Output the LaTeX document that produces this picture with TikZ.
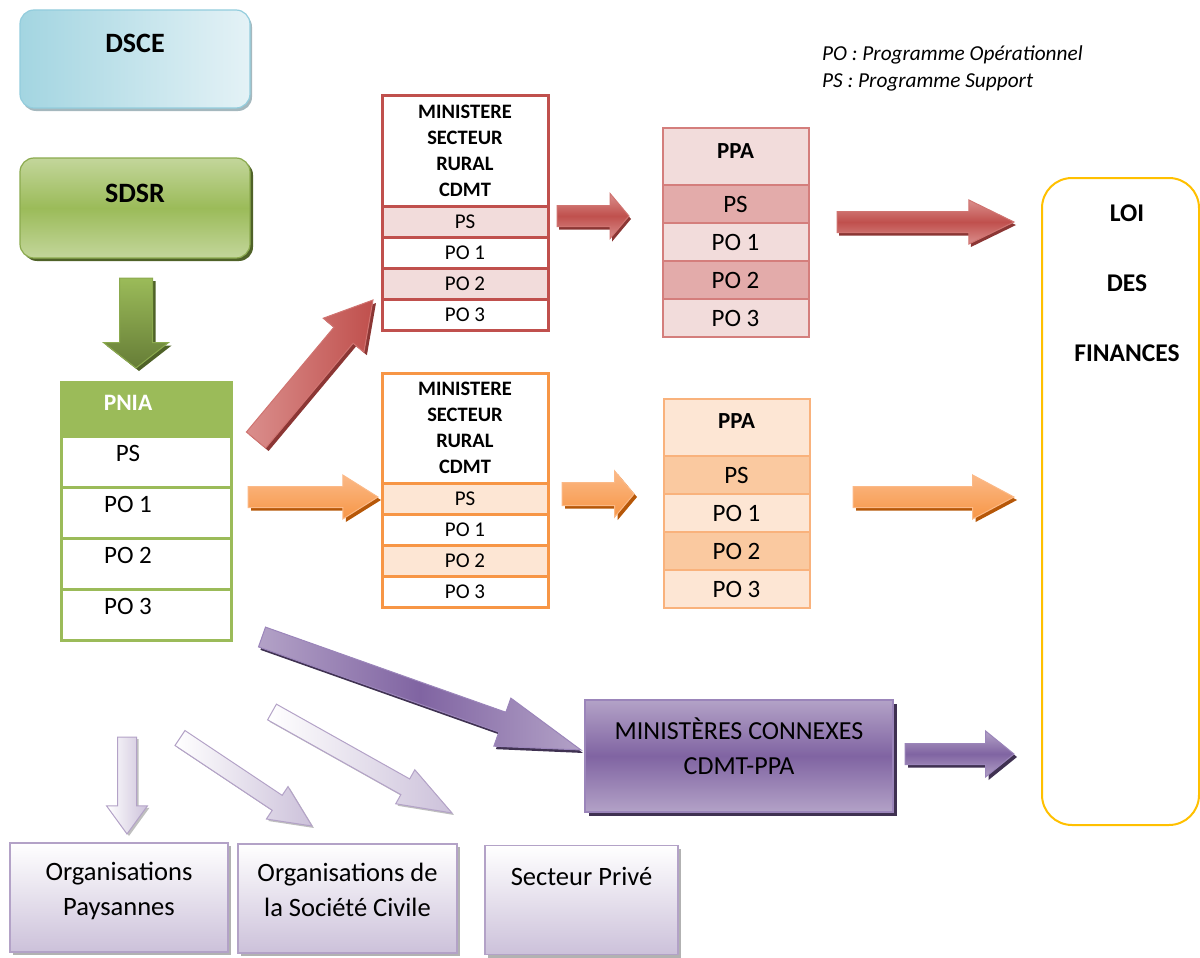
\documentclass[tikz,border=0pt]{standalone}
\usepackage{fontspec}
\setmainfont{Carlito}
\usetikzlibrary{positioning,calc,shapes.arrows,shadows}

\definecolor{dscebleu}{HTML}{A3D5E1}
\definecolor{dscepale}{HTML}{E4F2F6}
\definecolor{dscebord}{HTML}{93CDDD}
\definecolor{dsceombre}{HTML}{A5B8BE}
\definecolor{sdsrvert}{HTML}{9BBB59}
\definecolor{sdsrclair}{HTML}{C3D69B}
\definecolor{sdsrbord}{HTML}{8BAA4E}
\definecolor{sdsrombre}{HTML}{4F6228}
\definecolor{rouge}{HTML}{C0504D}
\definecolor{rougepale}{HTML}{DA8E8C}
\definecolor{rougebord}{HTML}{D07471}
\definecolor{rougefonce}{HTML}{8B3634}
\definecolor{rougeclair}{HTML}{F2DCDB}
\definecolor{rougemoyen}{HTML}{E3ABAA}
\definecolor{rougeppa}{HTML}{D47E7C}
\definecolor{orangevif}{HTML}{F79646}
\definecolor{orangepale}{HTML}{FBB987}
\definecolor{orangefonce}{HTML}{B65708}
\definecolor{orangeclair}{HTML}{FDE6D4}
\definecolor{orangemoyen}{HTML}{FAC9A0}
\definecolor{orangeppa}{HTML}{F9B27C}
\definecolor{violet}{HTML}{8064A2}
\definecolor{violetclair}{HTML}{B3A2C7}
\definecolor{violetbord}{HTML}{9B85BA}
\definecolor{violetfonce}{HTML}{3F3151}
\definecolor{lavande}{HTML}{CCC1DA}
\definecolor{lavandebord}{HTML}{B3A2C7}
\definecolor{jauneloi}{HTML}{FFC000}

\tikzset{
  cadre/.style={rounded corners=14pt, minimum width=230pt, inner sep=0pt, line width=1.2pt,
    font=\fontsize{28}{32}\selectfont\bfseries},
  pniabase/.style={draw=sdsrvert, line width=3pt, minimum width=170pt, inner sep=0pt, outer sep=0pt,
    execute at begin node=\hspace*{-36pt}},
  pniatete/.style={pniabase, fill=sdsrvert, text=white, text height=28pt, text depth=26pt,
    font=\fontsize{23.5}{26}\selectfont\bfseries},
  pniacase/.style={pniabase, fill=white, text height=25pt, text depth=26pt,
    font=\fontsize{25}{26}\selectfont},
  mintete/.style={draw=#1, line width=3pt, fill=white, minimum width=166pt, minimum height=110pt,
    inner sep=0pt, outer sep=0pt, align=center, font=\fontsize{20.5}{26}\selectfont\bfseries},
  mincase/.style={draw=#1, line width=3pt, minimum width=166pt, minimum height=31pt,
    inner sep=0pt, outer sep=0pt, font=\fontsize{21}{22}\selectfont},
  ppatete/.style={draw=#1, line width=2pt, minimum width=146pt, inner sep=0pt, outer sep=0pt,
    text height=30pt, text depth=27pt, font=\fontsize{23}{26}\selectfont\bfseries},
  ppacase/.style={draw=#1, line width=2pt, minimum width=146pt, minimum height=38pt,
    inner sep=0pt, outer sep=0pt, font=\fontsize{25}{26}\selectfont},
  loi/.style={draw=jauneloi, line width=2pt, rounded corners=30pt, fill=white,
    minimum width=157pt, minimum height=647pt},
  loitexte/.style={inner sep=0pt, align=center, font=\fontsize{25.5}{70}\selectfont\bfseries},
  legende/.style={anchor=base west, inner sep=0pt, font=\fontsize{21.3}{24}\selectfont\itshape},
  connexe/.style={draw=violetbord, line width=1.5pt, top color=violetclair, bottom color=violetclair,
    middle color=violet, minimum width=308pt, minimum height=112pt,
    drop shadow={shadow xshift=4pt, shadow yshift=-4pt, fill=violetfonce, opacity=1}},
  connexetexte/.style={inner sep=0pt, align=center, font=\fontsize{26}{35}\selectfont},
  acteur/.style={draw=lavandebord, line width=1.5pt, top color=white, bottom color=lavande,
    minimum height=109pt, inner sep=0pt,
    drop shadow={shadow xshift=3pt, shadow yshift=-3pt, fill=gray!60, opacity=1}},
  acteurtexte/.style={inner sep=0pt, align=center, font=\fontsize{26.5}{35}\selectfont},
  fleche/.style={single arrow, line width=1pt, inner xsep=0pt, inner ysep=10pt, outer sep=0pt,
    minimum width=0pt, single arrow head extend=12pt, single arrow tip angle=90},
  vertfl/.style={fleche, draw=sdsrbord, top color=sdsrvert, bottom color=sdsrombre!70!sdsrvert,
    drop shadow={shadow xshift=3pt, shadow yshift=-3pt, fill=sdsrombre, opacity=1}},
  rougefl/.style={fleche, draw=rougebord, top color=rougepale, bottom color=rougepale, middle color=rouge,
    drop shadow={shadow xshift=2pt, shadow yshift=-3pt, fill=rougefonce, opacity=1}},
  rougediag/.style={fleche, draw=rougebord, left color=rougepale, right color=rouge,
    drop shadow={shadow xshift=3pt, shadow yshift=-3pt, fill=rougefonce, opacity=1}},
  orangefl/.style={fleche, draw=orangepale, top color=orangepale, bottom color=orangevif,
    drop shadow={shadow xshift=3pt, shadow yshift=-3pt, fill=orangefonce, opacity=1}},
  violetfl/.style={fleche, draw=violetbord, top color=violetclair, bottom color=violetclair, middle color=violet,
    drop shadow={shadow xshift=3pt, shadow yshift=-3pt, fill=violetfonce, opacity=1}},
  violetdiag/.style={fleche, draw=violetbord, left color=violetclair, right color=violetclair, middle color=violet,
    drop shadow={shadow xshift=2pt, shadow yshift=-3pt, fill=violetfonce, opacity=1}},
  lavandefl/.style={fleche, draw=lavandebord, left color=white, right color=lavande,
    drop shadow={shadow xshift=2pt, shadow yshift=-2pt, fill=gray!50, opacity=1}}
}

% flèche pleine entre deux points nommés
\newcommand{\fleche}[4]{%
  \path let \p1=($(#4)-(#3)$), \n1={veclen(\x1,\y1)} in
    (#3) -- (#4) node[#2, pos=0, sloped, anchor=tail, minimum height=\n1] (#1) {};}

\begin{document}
\begin{tikzpicture}[x=1pt,y=-1pt]
    \useasboundingbox (0,0) rectangle (1200,958);

    % DSCE et SDSR
    \node[cadre, left color=dscebleu, right color=dscepale, draw=dscebord,
          drop shadow={shadow xshift=2pt, shadow yshift=-3pt, fill=dsceombre, opacity=1},
          text height=43pt, text depth=55pt] (dsce) at (135,59) {DSCE};
    \node[cadre, top color=sdsrclair, bottom color=sdsrclair, middle color=sdsrvert, draw=sdsrbord,
          drop shadow={shadow xshift=3pt, shadow yshift=-3pt, fill=sdsrombre, opacity=1},
          text height=44pt, text depth=56pt] (sdsr) at (135,208) {SDSR};

    % PNIA
    \node[pniatete] (pnia) at (146,409) {PNIA};
    \foreach \t [count=\i] in {PS, PO 1, PO 2, PO 3}
        \node[pniacase] (pnia\i) at (146,{436+(\i-0.5)*51}) {\t};

    % Ministère secteur rural
    \node[mintete=rouge] (minr) at (465,151) {MINISTERE\\SECTEUR\\RURAL\\CDMT};
    \foreach \t/\c [count=\i] in {PS/rougeclair, PO 1/white, PO 2/rougeclair, PO 3/white}
        \node[mincase=rouge, fill=\c] (minr\i) at (465,{206+(\i-0.5)*31}) {\t};
    \node[mintete=orangevif] (mino) at (465,428) {MINISTERE\\SECTEUR\\RURAL\\CDMT};
    \foreach \t/\c [count=\i] in {PS/orangeclair, PO 1/white, PO 2/orangeclair, PO 3/white}
        \node[mincase=orangevif, fill=\c] (mino\i) at (465,{483+(\i-0.5)*31}) {\t};

    % PPA
    \node[ppatete=rougeppa, fill=rougeclair] (ppar) at (735.5,156.5) {PPA};
    \foreach \t/\c [count=\i] in {PS/rougemoyen, PO 1/rougeclair, PO 2/rougemoyen, PO 3/rougeclair}
        \node[ppacase=rougeppa, fill=\c] (ppar\i) at (735.5,{185+(\i-0.5)*38}) {\t};
    \node[ppatete=orangeppa, fill=orangeclair] (ppao) at (736.5,427) {PPA};
    \foreach \t/\c [count=\i] in {PS/orangemoyen, PO 1/orangeclair, PO 2/orangemoyen, PO 3/orangeclair}
        \node[ppacase=orangeppa, fill=\c] (ppao\i) at (736.5,{456+(\i-0.5)*38}) {\t};

    % Loi des finances et légende
    \node[loi] (loi) at (1120.5,501.5) {};
    \node[loitexte, anchor=north] (loitexte) at (1127,205) {LOI\\DES\\FINANCES};
    \node[legende] (legpo) at (822,61) {PO : Programme Opérationnel};
    \node[legende] (legps) at (822,88) {PS : Programme Support};

    % Ministères connexes et acteurs
    \node[connexe] (connexe) at (739,756) {};
    \node[connexetexte] (connexetexte) at (739,746) {MINISTÈRES CONNEXES\\CDMT-PPA};
    \node[acteur, minimum width=218pt] (op) at (119,897.5) {};
    \node[acteurtexte, below=20pt of op.north] (optexte) {Organisations\\Paysannes};
    \node[acteur, minimum width=219pt] (osc) at (347.5,898.5) {};
    \node[acteurtexte, below=20pt of osc.north] (osctexte) {Organisations de\\la Société Civile};
    \node[acteur, minimum width=193pt] (sp) at (581.5,900) {};
    \node[acteurtexte, below=22pt of sp.north] (sptexte) {Secteur Privé};

    % Points des flèches
    \coordinate (fva) at (136,278);  \coordinate (fvb) at (136,368);
    \coordinate (rda) at (256,440);  \coordinate (rdb) at (373,300);
    \coordinate (rh1a) at (557,216); \coordinate (rh1b) at (629,216);
    \coordinate (rh2a) at (837,222); \coordinate (rh2b) at (1014,222);
    \coordinate (oh1a) at (248,497); \coordinate (oh1b) at (378,497);
    \coordinate (oh2a) at (562,494); \coordinate (oh2b) at (634,494);
    \coordinate (oh3a) at (853,497); \coordinate (oh3b) at (1014,497);
    \coordinate (pda) at (262,637);  \coordinate (pdb) at (581,750);
    \coordinate (pha) at (905,754);  \coordinate (phb) at (1014,754);
    \coordinate (lva) at (127,737);  \coordinate (lvb) at (127,834);
    \coordinate (ld1a) at (180,738); \coordinate (ld1b) at (312,826);
    \coordinate (ld2a) at (272,712); \coordinate (ld2b) at (452,813);

    % Flèches
    \fleche{fv}{vertfl, inner ysep=16pt, single arrow head extend=16pt, single arrow tip angle=104}{fva}{fvb}
    \fleche{frd}{rougediag, inner ysep=12pt, single arrow head extend=14pt, single arrow tip angle=60}{rda}{rdb}
    \fleche{frh1}{rougefl, single arrow tip angle=100}{rh1a}{rh1b}
    \fleche{frh2}{rougefl, single arrow head extend=11.5pt, single arrow tip angle=52}{rh2a}{rh2b}
    \fleche{foh1}{orangefl, single arrow head extend=11.5pt, single arrow tip angle=64}{oh1a}{oh1b}
    \fleche{foh2}{orangefl, inner ysep=11pt, single arrow head extend=11.5pt, single arrow tip angle=100}{oh2a}{oh2b}
    \fleche{foh3}{orangefl, single arrow head extend=11.5pt, single arrow tip angle=56}{oh3a}{oh3b}
    \fleche{fpd}{violetdiag, single arrow head extend=15pt, single arrow tip angle=34}{pda}{pdb}
    \fleche{fph}{violetfl, single arrow head extend=12.5pt, single arrow tip angle=78}{pha}{phb}
    \fleche{flv}{lavandefl, inner ysep=9pt, single arrow head extend=11pt, single arrow tip angle=72}{lva}{lvb}
    \fleche{fld1}{lavandefl, inner ysep=8.5pt, single arrow head extend=10.5pt, single arrow tip angle=50}{ld1a}{ld1b}
    \fleche{fld2}{lavandefl, inner ysep=8.5pt, single arrow head extend=10.5pt, single arrow tip angle=40}{ld2a}{ld2b}
\end{tikzpicture}
\end{document}
